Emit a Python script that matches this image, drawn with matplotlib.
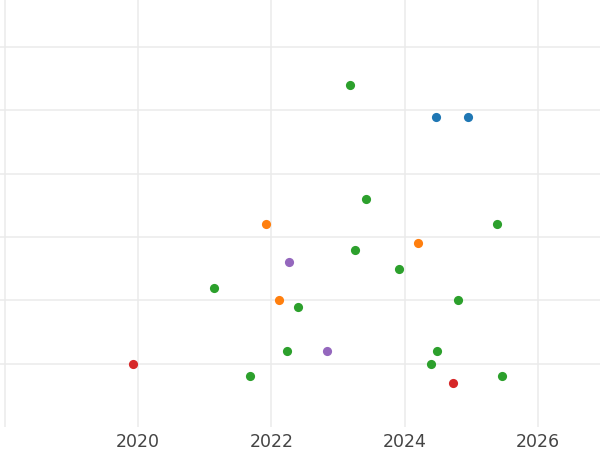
import matplotlib
matplotlib.use("Agg")
import matplotlib.pyplot as plt

blue_x = [2024.47, 2024.95]
blue_y = [4.9, 4.9]
orange_x = [2021.92, 2024.20, 2022.12]
orange_y = [3.2, 2.9, 2.0]
green_x = [2023.18, 2023.42, 2025.38, 2023.25, 2023.92, 2021.14, 2024.80,
           2022.40, 2022.23, 2024.49, 2024.39, 2021.68, 2025.46]
green_y = [5.4, 3.6, 3.2, 2.8, 2.5, 2.2, 2.0,
           1.9, 1.2, 1.2, 1.0, 0.8, 0.8]
red_x = [2019.925, 2024.73]
red_y = [1.0, 0.7]
purple_x = [2022.27, 2022.84]
purple_y = [2.6, 1.2]

series = [
    (blue_x, blue_y, "#1f77b4"),
    (orange_x, orange_y, "#ff7f0e"),
    (green_x, green_y, "#2ca02c"),
    (red_x, red_y, "#d62728"),
    (purple_x, purple_y, "#9467bd"),
]

xticks = [2018, 2020, 2022, 2024, 2026]
xticklabels = ["", "2020", "2022", "2024", "2026"]
yticks = [1, 2, 3, 4, 5, 6]

fig = plt.figure(figsize=(6, 4.5), dpi=100)
ax = fig.add_axes([0, 23 / 450, 1, 427 / 450])

for xs, ys, c in series:
    ax.plot(xs, ys, "o", color=c, markersize=6.6, markeredgewidth=0, zorder=3)

ax.set_xlim(2017.93, 2026.93)
ax.set_ylim(0, 6.742)
ax.set_xticks(xticks)
ax.set_xticklabels(xticklabels)
ax.set_yticks(yticks)
ax.set_yticklabels([])
ax.tick_params(axis="both", length=0)
ax.tick_params(axis="x", pad=4.5, labelsize=12.5, labelcolor="#444444")
ax.grid(True, color="#ebebeb", linewidth=1.1, zorder=0)
ax.set_axisbelow(True)
for s in ax.spines.values():
    s.set_visible(False)

fig.savefig("out.png", dpi=100)
